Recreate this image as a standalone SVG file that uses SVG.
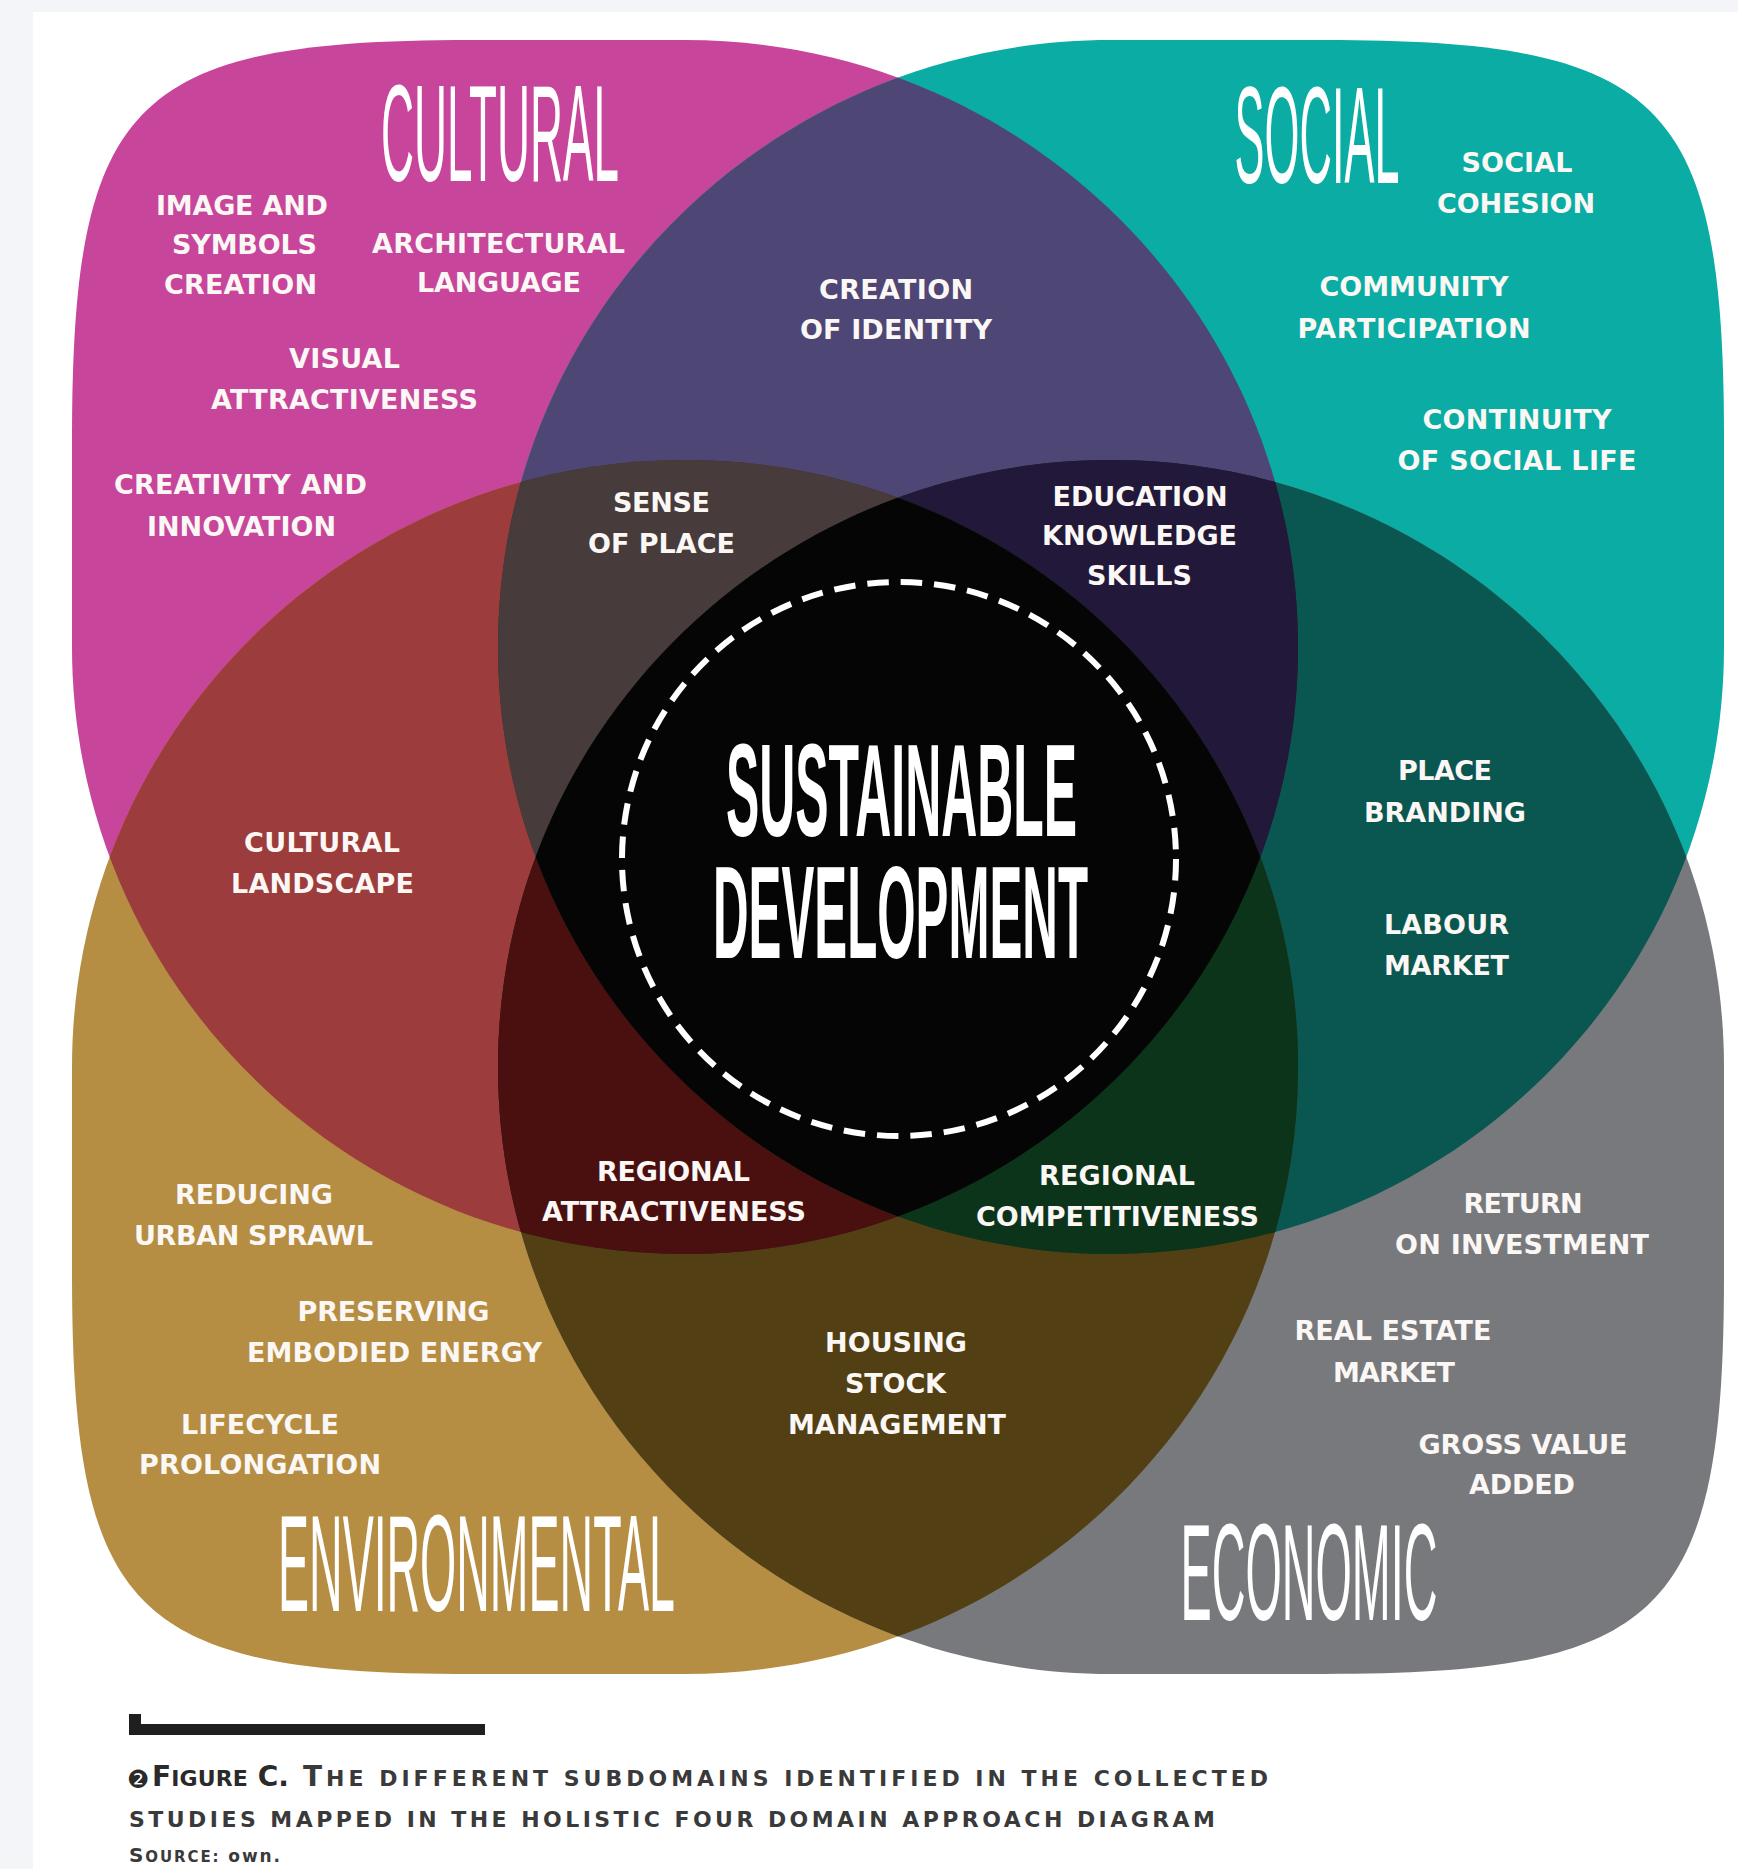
<svg xmlns="http://www.w3.org/2000/svg" width="1738" height="1869" viewBox="0 0 1738 1869">
<style>
.lbl{font-family:"DejaVu Sans","Liberation Sans",sans-serif;font-weight:bold;font-size:27px;fill:#fbf7f4;text-anchor:middle}
.ttl{font-family:"Liberation Sans Narrow","Liberation Sans",sans-serif;font-size:137px;fill:#ffffff;text-anchor:middle}
.sd{font-family:"Liberation Sans Narrow","Liberation Sans",sans-serif;font-weight:bold;font-size:131px;fill:#ffffff;text-anchor:middle}
.cap{font-family:"DejaVu Sans","Liberation Sans",sans-serif;font-weight:bold;fill:#2a2a2a}
.capr{fill:#3a3a3a}
</style>
<defs>
<path id="shp" d="M0,607 L0,400 C0,60 60,0 400,0 L613,0 C951.6,0 1226,271.8 1226,607 C1226,942.2 951.6,1214 613,1214 C274.4,1214 0,942.2 0,607 Z"/>
<clipPath id="cC"><use href="#shp" transform="translate(72,40)"/></clipPath>
<clipPath id="cS"><use href="#shp" transform="translate(1724,40) scale(-1,1)"/></clipPath>
<clipPath id="cE"><use href="#shp" transform="translate(72,1674) scale(1,-1)"/></clipPath>
<clipPath id="cN"><use href="#shp" transform="translate(1724,1674) scale(-1,-1)"/></clipPath>
</defs>
<rect x="0" y="0" width="1738" height="1869" fill="#f3f5f9"/>
<rect x="33" y="12" width="1705" height="1857" fill="#ffffff"/>

<g id="shapes">
<use href="#shp" transform="translate(72,40)" fill="#c7459b"/>
<use href="#shp" transform="translate(1724,40) scale(-1,1)" fill="#0aaca3"/>
<use href="#shp" transform="translate(72,1674) scale(1,-1)" fill="#b58e44"/>
<use href="#shp" transform="translate(1724,1674) scale(-1,-1)" fill="#78797d"/>
<g clip-path="url(#cS)"><use href="#shp" transform="translate(72,40)" fill="#4e4674"/></g>
<g clip-path="url(#cE)"><use href="#shp" transform="translate(72,40)" fill="#9c3c3c"/></g>
<g clip-path="url(#cN)"><use href="#shp" transform="translate(1724,40) scale(-1,1)" fill="#0a5650"/></g>
<g clip-path="url(#cN)"><use href="#shp" transform="translate(72,1674) scale(1,-1)" fill="#523f14"/></g>
<g clip-path="url(#cN)"><use href="#shp" transform="translate(72,40)" fill="#2a1e30"/></g>
<g clip-path="url(#cE)"><use href="#shp" transform="translate(1724,40) scale(-1,1)" fill="#1d3a2a"/></g>
<g clip-path="url(#cS)"><g clip-path="url(#cE)"><use href="#shp" transform="translate(72,40)" fill="#473b3b"/></g></g>
<g clip-path="url(#cS)"><g clip-path="url(#cN)"><use href="#shp" transform="translate(72,40)" fill="#22193a"/></g></g>
<g clip-path="url(#cE)"><g clip-path="url(#cN)"><use href="#shp" transform="translate(72,40)" fill="#4a1010"/></g></g>
<g clip-path="url(#cE)"><g clip-path="url(#cN)"><use href="#shp" transform="translate(1724,40) scale(-1,1)" fill="#0c341a"/></g></g>
<g clip-path="url(#cS)"><g clip-path="url(#cE)"><g clip-path="url(#cN)"><use href="#shp" transform="translate(72,40)" fill="#050505"/></g></g></g>
</g>

<g id="node-cultural">
<text class="ttl" transform="translate(500,181) scale(0.35,1)" textLength="680" lengthAdjust="spacingAndGlyphs">CULTURAL</text>
<text class="lbl" x="242" y="215" textLength="172">IMAGE AND</text>
<text class="lbl" x="244.5" y="254" textLength="145">SYMBOLS</text>
<text class="lbl" x="240.5" y="294" textLength="153">CREATION</text>
<text class="lbl" x="498.5" y="253" textLength="253">ARCHITECTURAL</text>
<text class="lbl" x="499" y="292" textLength="164">LANGUAGE</text>
<text class="lbl" x="344.5" y="368" textLength="111">VISUAL</text>
<text class="lbl" x="344.5" y="409" textLength="267">ATTRACTIVENESS</text>
<text class="lbl" x="240.5" y="494" textLength="253">CREATIVITY AND</text>
<text class="lbl" x="241.5" y="536" textLength="189">INNOVATION</text>
</g>

<g id="node-social">
<text class="ttl" transform="translate(1317,183) scale(0.35,1)" textLength="471" lengthAdjust="spacingAndGlyphs">SOCIAL</text>
<text class="lbl" x="1517" y="172" textLength="111">SOCIAL</text>
<text class="lbl" x="1516" y="213" textLength="158">COHESION</text>
<text class="lbl" x="1414" y="296" textLength="189">COMMUNITY</text>
<text class="lbl" x="1414" y="338" textLength="233">PARTICIPATION</text>
<text class="lbl" x="1517" y="429" textLength="189">CONTINUITY</text>
<text class="lbl" x="1517" y="470" textLength="239">OF SOCIAL LIFE</text>
</g>

<g id="node-environmental">
<text class="ttl" transform="translate(476.5,1611) scale(0.35,1)" textLength="1134" lengthAdjust="spacingAndGlyphs">ENVIRONMENTAL</text>
<text class="lbl" x="254" y="1204" textLength="158">REDUCING</text>
<text class="lbl" x="253.5" y="1245" textLength="239">URBAN SPRAWL</text>
<text class="lbl" x="393.5" y="1321" textLength="192">PRESERVING</text>
<text class="lbl" x="394.5" y="1362" textLength="295">EMBODIED ENERGY</text>
<text class="lbl" x="260" y="1434" textLength="158">LIFECYCLE</text>
<text class="lbl" x="260" y="1474" textLength="242">PROLONGATION</text>
</g>

<g id="node-economic">
<text class="ttl" transform="translate(1309,1620) scale(0.35,1)" textLength="734" lengthAdjust="spacingAndGlyphs">ECONOMIC</text>
<text class="lbl" x="1523" y="1213" textLength="119">RETURN</text>
<text class="lbl" x="1522" y="1254" textLength="254">ON INVESTMENT</text>
<text class="lbl" x="1393" y="1340" textLength="197">REAL ESTATE</text>
<text class="lbl" x="1394" y="1382" textLength="122">MARKET</text>
<text class="lbl" x="1523" y="1454" textLength="209">GROSS VALUE</text>
<text class="lbl" x="1522" y="1494" textLength="106">ADDED</text>
</g>

<g id="overlap-cultural-social">
<text class="lbl" x="896" y="299" textLength="154">CREATION</text>
<text class="lbl" x="896" y="339" textLength="192">OF IDENTITY</text>
</g>
<g id="overlap-cultural-environmental">
<text class="lbl" x="322" y="852" textLength="156">CULTURAL</text>
<text class="lbl" x="322.5" y="893" textLength="183">LANDSCAPE</text>
</g>
<g id="overlap-social-economic">
<text class="lbl" x="1445" y="780" textLength="94">PLACE</text>
<text class="lbl" x="1445" y="822" textLength="162">BRANDING</text>
<text class="lbl" x="1446.5" y="934" textLength="125">LABOUR</text>
<text class="lbl" x="1446.5" y="975" textLength="125">MARKET</text>
</g>
<g id="overlap-environmental-economic">
<text class="lbl" x="896" y="1352" textLength="142">HOUSING</text>
<text class="lbl" x="895.5" y="1393" textLength="101">STOCK</text>
<text class="lbl" x="897" y="1434" textLength="218">MANAGEMENT</text>
</g>
<g id="overlap-sense-of-place">
<text class="lbl" x="661.5" y="512" textLength="97">SENSE</text>
<text class="lbl" x="661.5" y="553" textLength="147">OF PLACE</text>
</g>
<g id="overlap-education">
<text class="lbl" x="1140" y="506" textLength="175">EDUCATION</text>
<text class="lbl" x="1139.5" y="545" textLength="195">KNOWLEDGE</text>
<text class="lbl" x="1139.5" y="585" textLength="105">SKILLS</text>
</g>
<g id="overlap-regional-attractiveness">
<text class="lbl" x="673.5" y="1181" textLength="153">REGIONAL</text>
<text class="lbl" x="674" y="1221" textLength="264">ATTRACTIVENESS</text>
</g>
<g id="overlap-regional-competitiveness">
<text class="lbl" x="1117" y="1185" textLength="156">REGIONAL</text>
<text class="lbl" x="1117.5" y="1226" textLength="283">COMPETITIVENESS</text>
</g>

<g id="node-sustainable-development">
<circle cx="899" cy="859" r="277" fill="none" stroke="#ffffff" stroke-width="6" stroke-dasharray="21.5 12"/>
<text class="sd" transform="translate(901.5,836) scale(0.42,1)" textLength="836" lengthAdjust="spacingAndGlyphs">SUSTAINABLE</text>
<text class="sd" transform="translate(900.5,958) scale(0.42,1)" textLength="893" lengthAdjust="spacingAndGlyphs">DEVELOPMENT</text>
</g>

<g id="caption">
<path d="M129,1714 h12 v10 h344 v11 h-356 z" fill="#1f1f1f"/>
<text x="127" y="1788" font-family="DejaVu Sans, sans-serif" font-size="25" fill="#2a2a2a">❷</text>
<text class="cap" x="152" y="1786" textLength="137"><tspan font-size="28">F</tspan><tspan font-size="22">IGURE</tspan><tspan font-size="28"> C.</tspan></text>
<text class="cap capr" x="303" y="1786" textLength="965"><tspan font-size="28">T</tspan><tspan font-size="22">HE DIFFERENT SUBDOMAINS IDENTIFIED IN THE COLLECTED</tspan></text>
<text class="cap capr" x="129" y="1827" font-size="22" textLength="1086">STUDIES MAPPED IN THE HOLISTIC FOUR DOMAIN APPROACH DIAGRAM</text>
<text class="cap capr" x="129" y="1862" textLength="151"><tspan font-size="20">S</tspan><tspan font-size="15">OURCE:</tspan><tspan font-size="17"> own.</tspan></text>
</g>
</svg>
